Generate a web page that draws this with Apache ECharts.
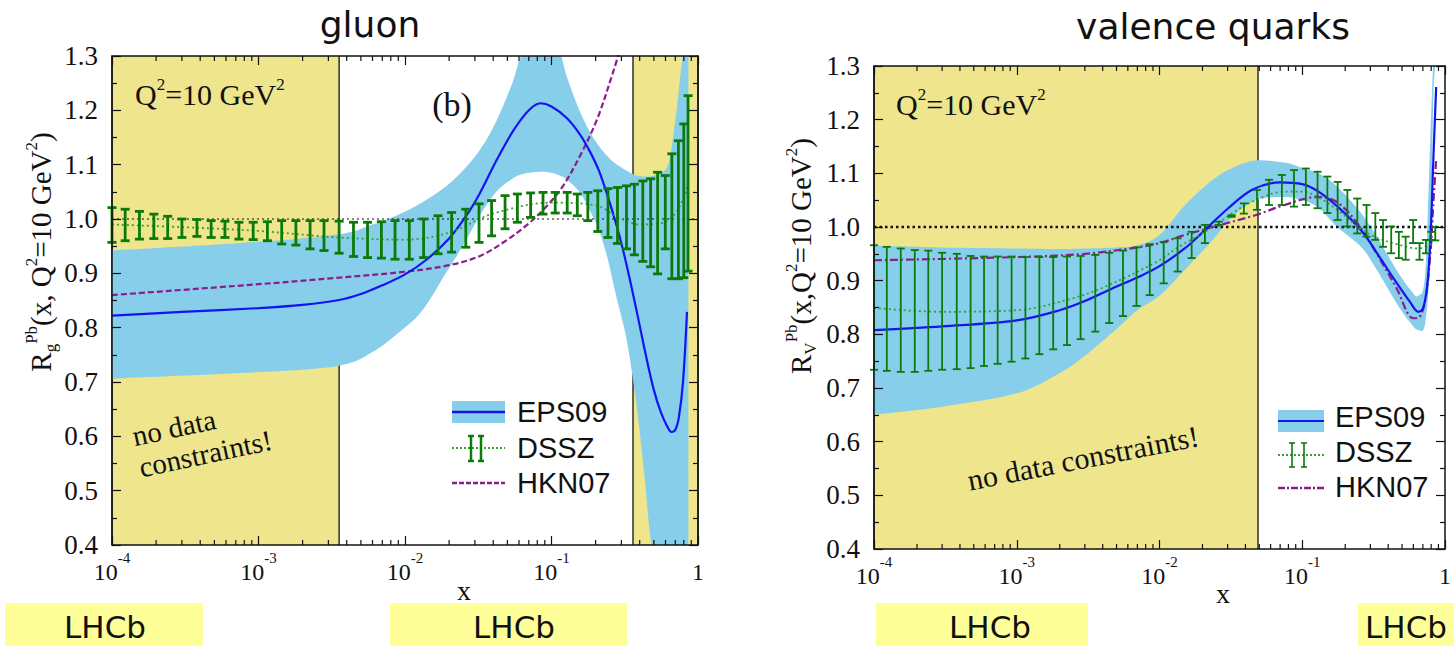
<!DOCTYPE html>
<html>
<head>
<meta charset="utf-8">
<title>nuclear PDF ratios</title>
<script src="https://cdn.jsdelivr.net/npm/echarts@6/dist/echarts.min.js"></script>
<style>
html, body { margin: 0; padding: 0; background: #fff; }
#main { width: 1454px; height: 646px; }
</style>
</head>
<body>
<div id="main"></div>
<script>
// ---- data ----
var xTicksMinor = [2e-4, 3e-4, 4e-4, 5e-4, 6e-4, 7e-4, 8e-4, 9e-4,
  2e-3, 3e-3, 4e-3, 5e-3, 6e-3, 7e-3, 8e-3, 9e-3,
  2e-2, 3e-2, 4e-2, 5e-2, 6e-2, 7e-2, 8e-2, 9e-2,
  0.2, 0.3, 0.4, 0.5, 0.6, 0.7, 0.8, 0.9];

// gluon panel
var gShade = [[1e-4, 3.55e-3], [0.36, 1]];
var gEpsX = [1e-4, 3e-4, 1e-3, 2e-3, 3.55e-3, 5e-3, 7e-3, 1e-2, 1.4e-2, 2e-2, 2.65e-2, 3.25e-2, 4.25e-2, 5.5e-2, 7e-2, 8.4e-2,
  0.1, 0.128, 0.157, 0.183, 0.21, 0.24, 0.27, 0.30, 0.34, 0.39, 0.44, 0.50, 0.56, 0.62, 0.66, 0.70, 0.74, 0.79, 0.841];
var gEps = [0.822, 0.829, 0.836, 0.842, 0.851, 0.862, 0.878, 0.898, 0.925, 0.964, 1.008, 1.048, 1.11, 1.163, 1.2, 1.213,
  1.207, 1.185, 1.155, 1.124, 1.09, 1.045, 1.0, 0.955, 0.893, 0.818, 0.75, 0.685, 0.643, 0.617, 0.608, 0.612, 0.635, 0.70, 0.829];
var gBandX = [1e-4, 1e-3, 3.55e-3, 6e-3, 9e-3, 1.3e-2, 1.9e-2, 2.6e-2, 3.3e-2, 4.2e-2, 5.4e-2, 6.4e-2, 8.4e-2, 0.1, 0.114,
  0.128, 0.155, 0.183, 0.21, 0.24, 0.27, 0.30, 0.33, 0.38, 0.43, 0.47, 0.50, 0.56, 0.614, 0.655, 0.72, 0.79, 0.86];
var gBandHi = [0.942, 0.958, 0.972, 0.99, 1.008, 1.03, 1.06, 1.095, 1.13, 1.18, 1.25, 1.31, 1.36, 1.35, 1.31,
  1.26, 1.20, 1.16, 1.135, 1.116, 1.103, 1.095, 1.088, 1.08, 1.078, 1.078, 1.08, 1.085, 1.095, 1.125, 1.208, 1.30, 1.40];
var gBandLo = [0.706, 0.718, 0.730, 0.755, 0.79, 0.83, 0.90, 0.96, 1.01, 1.05, 1.074, 1.083, 1.087, 1.085, 1.08,
  1.072, 1.05, 1.015, 0.98, 0.93, 0.87, 0.82, 0.77, 0.66, 0.53, 0.42, 0.33, 0.22, 0.2, 0.2, 0.2, 0.2, 0.2];
var gHknX = [1e-4, 1e-3, 3.55e-3, 1e-2, 2e-2, 3.25e-2, 5e-2, 7e-2, 9.3e-2, 0.12, 0.157, 0.205, 0.263, 0.30];
var gHkn = [0.86, 0.88, 0.892, 0.903, 0.915, 0.932, 0.962, 0.992, 1.024, 1.061, 1.117, 1.184, 1.27, 1.32];
var gDsszLineX = [1e-4, 3e-4, 1e-3, 3.55e-3, 1e-2, 2e-2, 4e-2, 0.1, 0.2, 0.3, 0.4, 0.5, 0.6, 0.7, 0.8, 0.86];
var gDsszLine = [0.99, 0.985, 0.978, 0.966, 0.962, 0.975, 1.01, 1.03, 1.025, 1.0, 0.99, 0.99, 0.995, 1.01, 1.04, 1.065];

// DSSZ error bars share one x grid in both panels
var dsszX = [1.0e-4, 1.23e-4, 1.54e-4, 1.93e-4, 2.4e-4, 3.0e-4, 3.8e-4, 4.75e-4, 5.9e-4, 7.35e-4,
  9.2e-4, 1.15e-3, 1.44e-3, 1.8e-3, 2.25e-3, 2.8e-3, 3.55e-3, 4.45e-3, 5.55e-3, 6.9e-3,
  8.55e-3, 1.07e-2, 1.34e-2, 1.68e-2, 2.08e-2, 2.6e-2, 3.2e-2, 3.9e-2, 4.82e-2, 5.85e-2,
  7.2e-2, 8.75e-2, 0.106, 0.128, 0.15, 0.177, 0.207, 0.243, 0.282, 0.325,
  0.368, 0.42, 0.475, 0.53, 0.598, 0.663, 0.735, 0.80, 0.855];
var gDsszHi = [1.021, 1.018, 1.014, 1.009, 1.005, 1.0, 0.999, 0.997, 0.996, 0.994,
  0.994, 0.995, 0.997, 0.997, 0.997, 0.997, 0.996, 0.994, 0.994, 0.995,
  0.997, 0.997, 1.0, 1.006, 1.012, 1.018, 1.028, 1.034, 1.043, 1.046,
  1.048, 1.049, 1.049, 1.049, 1.046, 1.049, 1.052, 1.056, 1.058, 1.061,
  1.064, 1.07, 1.074, 1.086, 1.08, 1.12, 1.144, 1.175, 1.227];
var gDsszLo = [0.957, 0.960, 0.963, 0.964, 0.964, 0.966, 0.968, 0.966, 0.966, 0.963,
  0.962, 0.960, 0.954, 0.952, 0.945, 0.942, 0.937, 0.931, 0.929, 0.928,
  0.926, 0.926, 0.929, 0.936, 0.939, 0.948, 0.957, 0.969, 0.982, 0.994,
  1.003, 1.009, 1.011, 1.011, 1.006, 0.997, 0.977, 0.966, 0.955, 0.945,
  0.934, 0.922, 0.912, 0.899, 0.945, 0.89, 0.89, 0.892, 0.904];

// valence panel
var vShade = [[1e-4, 0.049]];
var vEpsX = [1e-4, 3e-4, 1e-3, 2e-3, 3e-3, 5e-3, 7e-3, 1e-2, 1.5e-2, 2e-2, 3e-2, 4.5e-2, 7e-2,
  0.1, 0.13, 0.18, 0.26, 0.34, 0.45, 0.57, 0.65, 0.70, 0.75, 0.79, 0.83, 0.867];
var vEps = [0.808, 0.815, 0.826, 0.845, 0.862, 0.889, 0.906, 0.927, 0.96, 0.99, 1.034, 1.07, 1.083,
  1.08, 1.066, 1.036, 0.993, 0.948, 0.899, 0.86, 0.842, 0.848, 0.89, 0.976, 1.131, 1.261];
var vBandX = [1e-4, 3e-4, 1e-3, 2e-3, 3e-3, 5e-3, 7e-3, 1e-2, 1.5e-2, 2.36e-2, 3.25e-2, 4.69e-2, 7.5e-2,
  0.1, 0.13, 0.176, 0.258, 0.333, 0.458, 0.573, 0.65, 0.727, 0.788, 0.826, 0.853];
var vBandHi = [0.965, 0.962, 0.96, 0.959, 0.96, 0.962, 0.966, 0.985, 1.04, 1.088, 1.11, 1.124, 1.12,
  1.11, 1.10, 1.075, 1.026, 0.982, 0.92, 0.883, 0.872, 0.914, 1.16, 1.30, 1.35];
var vBandLo = [0.65, 0.665, 0.69, 0.728, 0.76, 0.81, 0.845, 0.872, 0.92, 0.976, 1.019, 1.05, 1.056,
  1.05, 1.036, 1.0, 0.963, 0.92, 0.858, 0.821, 0.808, 0.821, 0.945, 1.224, 1.30];
var vHknX = [1e-4, 1e-3, 3e-3, 7e-3, 1e-2, 1.5e-2, 2.36e-2, 4.69e-2, 7.5e-2, 0.128, 0.176, 0.258, 0.333, 0.458, 0.601, 0.66, 0.727, 0.79, 0.826, 0.867];
var vHkn = [0.938, 0.944, 0.95, 0.962, 0.97, 0.985, 1.0, 1.022, 1.041, 1.056, 1.046, 0.998, 0.95, 0.886, 0.83, 0.832, 0.864, 0.95, 1.038, 1.125];
var vDsszLineX = [1e-4, 3e-4, 1e-3, 2.38e-3, 4.09e-3, 9.53e-3, 1.37e-2, 2.36e-2, 3.25e-2, 4.69e-2, 7.56e-2, 9.93e-2,
  0.128, 0.176, 0.258, 0.333, 0.458, 0.65, 0.826];
var vDsszLine = [0.849, 0.842, 0.845, 0.866, 0.888, 0.935, 0.963, 1.0, 1.026, 1.05, 1.066, 1.066,
  1.056, 1.032, 0.996, 0.98, 0.968, 0.96, 0.97];
var vDsszHi = [0.966, 0.963, 0.96, 0.957, 0.956, 0.952, 0.95, 0.946, 0.945, 0.945,
  0.945, 0.944, 0.944, 0.944, 0.945, 0.946, 0.948, 0.952, 0.956, 0.962,
  0.968, 0.972, 0.979, 0.991, 1.004, 1.01, 1.022, 1.044, 1.069, 1.088,
  1.097, 1.106, 1.109, 1.103, 1.094, 1.084, 1.069, 1.053, 1.041, 1.026,
  1.013, 1.001, 0.991, 0.982, 1.013, 0.97, 0.976, 0.991, 1.0];
var vDsszLo = [0.734, 0.732, 0.73, 0.73, 0.732, 0.734, 0.735, 0.737, 0.741, 0.745,
  0.749, 0.755, 0.763, 0.772, 0.78, 0.791, 0.805, 0.821, 0.834, 0.853,
  0.873, 0.895, 0.917, 0.942, 0.97, 1.004, 1.019, 1.025, 1.032, 1.041,
  1.041, 1.038, 1.041, 1.035, 1.026, 1.013, 1.001, 0.988, 0.982, 0.976,
  0.963, 0.951, 0.942, 0.939, 0.97, 0.939, 0.951, 0.976, 0.975];

var refX = [1e-4, 1];
var refY = [1, 1];

// ---- colours / fonts ----
var KHAKI = '#eee58d', SKY = '#87ceeb', BLUE = '#1414f0', PURPLE = '#8b1c8b', GREEN = '#0b7a0b', DOTGREEN = '#35a035';
var SERIF = '"Liberation Serif", "Times New Roman", serif';
var SANS = '"DejaVu Sans", sans-serif';
var ARIAL = '"Liberation Sans", Arial, sans-serif';

var myChart = echarts.init(document.getElementById('main'), null, { renderer: 'svg' });

function zip(xs, ys) { return xs.map(function (x, i) { return [x, ys[i]]; }); }
function zip3(xs, a, b) { return xs.map(function (x, i) { return [x, a[i], b[i]]; }); }

function xLabel(v) {
  var e = Math.round(Math.log(v) / Math.LN10);
  return e === 0 ? '{b|1}' : '{b|10}{sp|' + e + '}';
}

function xAxisDef(gi, pos, withLabels) {
  return {
    type: 'log', logBase: 10, gridIndex: gi, position: pos, min: 1e-4, max: 1, z: 10,
    axisLine: { show: true, onZero: false, lineStyle: { color: '#111', width: 1.5 } },
    axisTick: { show: true, inside: true, length: 9, lineStyle: { color: '#111', width: 1.2 } },
    splitLine: { show: false },
    axisLabel: withLabels ? {
      show: true, margin: 5, formatter: xLabel, color: '#111',
      rich: {
        b: { fontFamily: SERIF, fontSize: 24, lineHeight: 34, verticalAlign: 'bottom', color: '#111' },
        sp: { fontFamily: SERIF, fontSize: 15, lineHeight: 15, verticalAlign: 'top', color: '#111' }
      }
    } : { show: false }
  };
}

function yAxisDef(gi, pos, withLabels) {
  return {
    type: 'value', gridIndex: gi, position: pos, min: 0.4, max: 1.3, interval: 0.1, z: 10,
    axisLine: { show: true, onZero: false, lineStyle: { color: '#111', width: 1.5 } },
    axisTick: { show: true, inside: true, length: 9, lineStyle: { color: '#111', width: 1.2 } },
    minorTick: { show: true, splitNumber: 2, length: 5, lineStyle: { color: '#111', width: 1.2 } },
    splitLine: { show: false },
    axisLabel: withLabels ? {
      show: true, margin: 14, color: '#111', fontFamily: SERIF, fontSize: 27,
      formatter: function (v) { return v.toFixed(1); }
    } : { show: false }
  };
}

// yellow "no data" areas with black edge lines
function shadeItem(params, api) {
  var cs = params.coordSys;
  var a = api.coord([api.value(0), 1])[0];
  var b = api.coord([api.value(1), 1])[0];
  return {
    type: 'group', children: [
      { type: 'rect', shape: { x: a, y: cs.y, width: b - a, height: cs.height }, style: { fill: KHAKI } },
      { type: 'line', shape: { x1: a, y1: cs.y, x2: a, y2: cs.y + cs.height }, style: { stroke: '#111', lineWidth: 1.3 } },
      { type: 'line', shape: { x1: b, y1: cs.y, x2: b, y2: cs.y + cs.height }, style: { stroke: '#111', lineWidth: 1.3 } }
    ]
  };
}

// smooth curve through pixel points (Catmull-Rom as cubic beziers)
function crSeg(pts) {
  var d = '';
  for (var i = 0; i < pts.length - 1; i++) {
    var p0 = pts[i - 1] || pts[i], p1 = pts[i], p2 = pts[i + 1], p3 = pts[i + 2] || pts[i + 1];
    d += ' C' + (p1[0] + (p2[0] - p0[0]) / 6) + ' ' + (p1[1] + (p2[1] - p0[1]) / 6) + ' ' +
      (p2[0] - (p3[0] - p1[0]) / 6) + ' ' + (p2[1] - (p3[1] - p1[1]) / 6) + ' ' + p2[0] + ' ' + p2[1];
  }
  return d;
}

// uncertainty band drawn as one closed path
function bandRender(xs, lo, hi) {
  return function (params, api) {
    if (params.dataIndex !== 0) return;
    var cs = params.coordSys;
    function clampPt(p) { return [p[0], Math.max(cs.y - 3, Math.min(cs.y + cs.height + 3, p[1]))]; }
    var up = [], dn = [];
    for (var i = 0; i < xs.length; i++) {
      up.push(clampPt(api.coord([xs[i], hi[i]])));
      dn.push(clampPt(api.coord([xs[i], lo[i]])));
    }
    dn.reverse();
    var d = 'M' + up[0][0] + ' ' + up[0][1] + crSeg(up) + ' L' + dn[0][0] + ' ' + dn[0][1] + crSeg(dn) + ' Z';
    return { type: 'path', shape: { pathData: d }, style: { fill: SKY } };
  };
}

function errBarRender(width, cap) {
  return function (params, api) {
    var x = api.value(0);
    var lo = api.coord([x, api.value(1)]);
    var hi = api.coord([x, api.value(2)]);
    var st = { stroke: GREEN, lineWidth: width };
    return {
      type: 'group', children: [
        { type: 'line', shape: { x1: lo[0], y1: lo[1], x2: hi[0], y2: hi[1] }, style: st },
        { type: 'line', shape: { x1: lo[0] - cap, y1: lo[1], x2: lo[0] + cap, y2: lo[1] }, style: st },
        { type: 'line', shape: { x1: hi[0] - cap, y1: hi[1], x2: hi[0] + cap, y2: hi[1] }, style: st }
      ]
    };
  };
}

function minorTickItem(params, api) {
  var cs = params.coordSys;
  var px = api.coord([api.value(0), 1])[0];
  var bot = cs.y + cs.height, st = { stroke: '#111', lineWidth: 1.2 };
  return {
    type: 'group', children: [
      { type: 'line', shape: { x1: px, y1: bot, x2: px, y2: bot - 5 }, style: st },
      { type: 'line', shape: { x1: px, y1: cs.y, x2: px, y2: cs.y + 5 }, style: st }
    ]
  };
}

function panelSeries(xi, yi, p) {
  var base = { xAxisIndex: xi, yAxisIndex: yi, animation: false, silent: true };
  function s(o) { return Object.assign({}, base, o); }
  return [
    s({ type: 'custom', z: 1, renderItem: shadeItem, encode: { x: [0, 1], y: 2 },
        data: p.shade.map(function (r) { return [r[0], r[1], 1]; }) }),
    s({ type: 'custom', z: 2, clip: true, renderItem: bandRender(p.bandX, p.bandLo, p.bandHi),
        encode: { x: 0, y: [1, 2] }, data: zip3(p.bandX, p.bandLo, p.bandHi) }),
    s({ type: 'line', z: 3, symbol: 'none', data: zip(refX, refY),
        lineStyle: { color: '#111', width: p.refW, type: p.refDash } }),
    s({ type: 'line', name: 'HKN07', z: 4, symbol: 'none', smooth: 0.35, data: zip(p.hknX, p.hkn),
        lineStyle: { color: PURPLE, width: 2.2, type: p.hknDash } }),
    s({ type: 'line', name: 'EPS09', z: 5, symbol: 'none', smooth: 0.35, data: zip(p.epsX, p.eps),
        lineStyle: { color: BLUE, width: 2.2 } }),
    s({ type: 'line', name: 'DSSZ', z: 6, symbol: 'none', smooth: 0.35, data: zip(p.dLineX, p.dLine),
        lineStyle: { color: DOTGREEN, width: 1.8, type: [2, 3] } }),
    s({ type: 'custom', z: 7, renderItem: errBarRender(p.barW, p.cap), encode: { x: 0, y: [1, 2] },
        data: zip3(dsszX, p.dLo, p.dHi) }),
    s({ type: 'custom', z: 11, renderItem: minorTickItem, encode: { x: 0, y: 1 },
        data: xTicksMinor.map(function (x) { return [x, 1]; }) })
  ];
}

var series = [].concat(
  panelSeries(0, 0, {
    shade: gShade, bandX: gBandX, bandLo: gBandLo, bandHi: gBandHi, hknX: gHknX, hkn: gHkn, hknDash: [6, 3],
    epsX: gEpsX, eps: gEps, dLineX: gDsszLineX, dLine: gDsszLine, dLo: gDsszLo, dHi: gDsszHi,
    barW: 2.8, cap: 4.5, refW: 1.2, refDash: [2, 3]
  }),
  panelSeries(2, 2, {
    shade: vShade, bandX: vBandX, bandLo: vBandLo, bandHi: vBandHi, hknX: vHknX, hkn: vHkn, hknDash: [8, 3, 2, 3],
    epsX: vEpsX, eps: vEps, dLineX: vDsszLineX, dLine: vDsszLine, dLo: vDsszLo, dHi: vDsszHi,
    barW: 1.8, cap: 4, refW: 2.6, refDash: [2.5, 3]
  })
);

// ---- texts and legend keys ----
function text(x, y, t, size, family, opt) {
  opt = opt || {};
  return {
    type: 'text', x: x, y: y, rotation: opt.rot || 0, z: 20, silent: true,
    style: {
      text: t, fontSize: size, fontFamily: family, fill: '#111',
      align: opt.align || 'center', verticalAlign: opt.va || 'middle',
      lineHeight: opt.lh, rich: opt.rich
    }
  };
}
function seg(x1, y1, x2, y2, color, w, dash) {
  return { type: 'line', z: 20, silent: true, shape: { x1: x1, y1: y1, x2: x2, y2: y2 },
    style: { stroke: color, lineWidth: w, lineDash: dash || null } };
}
function bar(x, y1, y2, cap, w) {
  return [seg(x, y1, x, y2, GREEN, w), seg(x - cap, y1, x + cap, y1, GREEN, w), seg(x - cap, y2, x + cap, y2, GREEN, w)];
}
var supRich = {
  sp: { fontFamily: SERIF, fontSize: 17, lineHeight: 17, verticalAlign: 'top', fill: '#111' },
  sb: { fontFamily: SERIF, fontSize: 17, lineHeight: 17, verticalAlign: 'bottom', fill: '#111' }
};
function lhcb(x, w, cx) {
  return [
    { type: 'rect', z: 5, silent: true, shape: { x: x, y: 603, width: w, height: 46 }, style: { fill: '#ffff99' } },
    text(cx, 627, 'LHCb', 31, SANS)
  ];
}

var graphics = [
  text(370, 24, 'gluon', 36, SANS),
  text(1213, 26, 'valence quarks', 36, SANS),
  text(135, 94, 'Q{sp|2}=10 GeV{sp|2}', 30, SERIF, { align: 'left', lh: 36, rich: supRich }),
  text(896, 104, 'Q{sp|2}=10 GeV{sp|2}', 30, SERIF, { align: 'left', lh: 36, rich: supRich }),
  text(452, 104, '(b)', 34, SERIF),
  text(136, 452, 'no data\nconstraints!', 29, SERIF, { align: 'left', rot: 12 * Math.PI / 180, lh: 32 }),
  text(1083, 458, 'no data constraints!', 30, SERIF, { rot: 11 * Math.PI / 180 }),
  text(41, 252, 'R{sb|g}{sp|Pb}(x, Q{sp|2}=10 GeV{sp|2})', 29, SERIF, { rot: Math.PI / 2, lh: 36, rich: supRich }),
  text(801, 256, 'R{sb|V}{sp|Pb}(x,Q{sp|2}=10 GeV{sp|2})', 29, SERIF, { rot: Math.PI / 2, lh: 36, rich: supRich }),
  text(464, 590, 'x', 28, SERIF),
  text(1223, 593, 'x', 28, SERIF),
  // legend, gluon
  { type: 'rect', z: 20, silent: true, shape: { x: 452, y: 401, width: 53, height: 22 }, style: { fill: SKY } },
  seg(452, 412, 505, 412, BLUE, 2.5),
  text(517, 412, 'EPS09', 29, ARIAL, { align: 'left' }),
  seg(452, 448, 505, 448, DOTGREEN, 2, [2, 2]),
  text(517, 448, 'DSSZ', 29, ARIAL, { align: 'left' }),
  seg(452, 483, 505, 483, PURPLE, 2.5, [5, 2]),
  text(517, 483, 'HKN07', 29, ARIAL, { align: 'left' }),
  // legend, valence
  { type: 'rect', z: 20, silent: true, shape: { x: 1278, y: 410, width: 46, height: 22 }, style: { fill: SKY } },
  seg(1278, 421, 1324, 421, BLUE, 2),
  text(1335, 417, 'EPS09', 29, ARIAL, { align: 'left' }),
  seg(1278, 455, 1324, 455, DOTGREEN, 2, [2, 2]),
  text(1335, 452, 'DSSZ', 29, ARIAL, { align: 'left' }),
  seg(1278, 488, 1324, 488, PURPLE, 2.5, [7, 2, 2, 2]),
  text(1335, 487, 'HKN07', 29, ARIAL, { align: 'left' })
].concat(bar(471, 436, 461, 3, 2.5), bar(481, 436, 461, 3, 2.5), bar(1292, 443, 467, 3, 1.6), bar(1304, 443, 467, 3, 1.6),
  lhcb(5, 198, 105), lhcb(390, 237, 514), lhcb(876, 212, 990), lhcb(1358, 96, 1406));

var option = {
  backgroundColor: '#fff',
  animation: false,
  grid: [
    { left: 112, top: 56, width: 586, height: 489 },
    { left: 874, top: 66, width: 578, height: 483 }
  ],
  xAxis: [xAxisDef(0, 'bottom', true), xAxisDef(0, 'top', false), xAxisDef(1, 'bottom', true), xAxisDef(1, 'top', false)],
  yAxis: [yAxisDef(0, 'left', true), yAxisDef(0, 'right', false), yAxisDef(1, 'left', true), yAxisDef(1, 'right', false)],
  series: series,
  graphic: { elements: graphics }
};
myChart.setOption(option);
</script>
</body>
</html>
